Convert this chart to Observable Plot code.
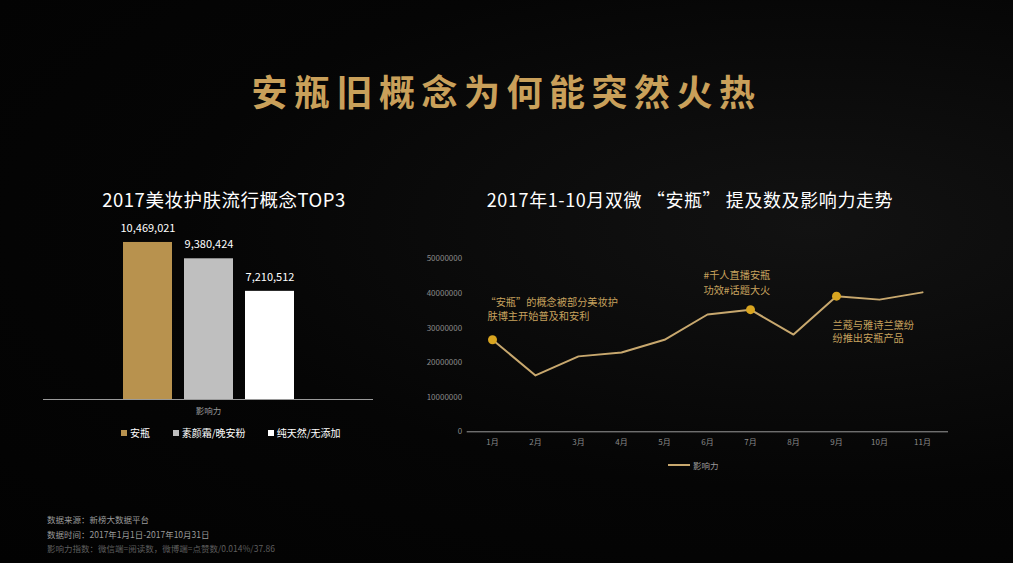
<!DOCTYPE html>
<html><head><meta charset="utf-8">
<script src="https://cdn.jsdelivr.net/npm/d3@7"></script>
<script src="https://cdn.jsdelivr.net/npm/@observablehq/plot@0.6"></script>
<style>
html,body{margin:0;padding:0;background:#040404;}
#page{position:relative;width:1013px;height:563px;overflow:hidden;background:radial-gradient(ellipse at 80% 40%,#121212 0%,#050505 55%,#020202 100%);font-family:"Noto Sans CJK SC","Noto Sans",sans-serif;}
.abs{position:absolute;white-space:nowrap;}
#title{left:0;width:1013px;top:64px;text-align:center;font-size:36px;font-weight:bold;letter-spacing:6.5px;color:#c9a05a;}
.sub{font-size:18px;color:#fff;top:186px;text-align:center;}
.chart{position:absolute;left:0;top:0;}
.leg{font-size:10px;color:#fff;top:425px;display:flex;align-items:center;}
.sq{display:inline-block;width:6px;height:6px;margin-right:3px;}
.foot{left:47px;font-size:8.5px;color:#9a9a9a;}
</style></head>
<body><div id="page">
<div id="title" class="abs">安瓶旧概念为何能突然火热</div>
<div class="abs sub" style="left:74px;width:300px;font-size:18.5px;letter-spacing:0.5px;">2017美妆护肤流行概念TOP3</div>
<div class="abs sub" style="left:440px;width:500px;letter-spacing:0.6px;">2017年1-10月双微 “安瓶” 提及数及影响力走势</div>
<div id="barchart" class="chart"></div>
<div id="linechart" class="chart"></div>
<div id="barlegend"></div>
<div class="abs" style="left:668px;top:459px;display:flex;align-items:center;font-size:8.5px;color:#9a9a9a;"><span style="display:inline-block;width:22px;height:2px;background:#c8a86e;margin-right:3px;"></span>影响力</div>
<div class="abs foot" style="top:513px;">数据来源：新榜大数据平台</div>
<div class="abs foot" style="top:528px;">数据时间：2017年1月1日-2017年10月31日</div>
<div class="abs foot" style="top:542px;color:#5e5e5e;">影响力指数：微信端=阅读数，微博端=点赞数/0.014%/37.86</div>
</div>
<script>
// ---- Data ----
const barCategory = "影响力";
const barSeries = ["安瓶", "素颜霜/晚安粉", "纯天然/无添加"];
const barValues = [10469021, 9380424, 7210512];
const barColors = ["#b8924e", "#bfbfbf", "#ffffff"];

const months = ["1月","2月","3月","4月","5月","6月","7月","8月","9月","10月","11月"];
const influence = [26600000,16300000,21800000,22900000,26600000,33900000,35300000,28100000,39200000,38200000,40300000];
const yTicks = [0,10000000,20000000,30000000,40000000,50000000];
const highlightMonths = ["1月","7月","9月"];
const annotations = [
  {month:"1月", lines:["“安瓶”的概念被部分美妆护","肤博主开始普及和安利"]},
  {month:"7月", lines:["#千人直播安瓶","功效#话题大火"]},
  {month:"9月", lines:["兰蔻与雅诗兰黛纷","纷推出安瓶产品"]}
];

const W = 1013, H = 563;
const font = '"Noto Sans CJK SC","Noto Sans",sans-serif';

// ---- Bar chart ----
const barData = barSeries.map((s,i)=>({series:s, value:barValues[i], color:barColors[i]}));
const bar = Plot.plot({
  width: W, height: H,
  marginLeft: 43, marginRight: W-373, marginTop: 219, marginBottom: H-399,
  style: {background:"transparent", fontFamily: font, overflow:"visible"},
  x: {domain: barSeries, range:[110.4, 307.2], padding:0.2, axis:null},
  y: {domain:[0,12000000], axis:null},
  marks: [
    Plot.barY(barData, {x:"series", y:"value", fill:"color"}),
    Plot.text(barData, {x:"series", y:"value", text:d=>d3.format(",")(d.value), dy:-14, fill:"#fff", fontSize:11}),
    Plot.ruleY([0], {stroke:"#9a9a9a", strokeWidth:1}),
    Plot.text([barCategory], {frameAnchor:"bottom", dy:14, text:d=>d, fill:"#9a9a9a", fontSize:8.5})
  ]
});
document.getElementById("barchart").appendChild(bar);

// bar legend
const legPos = [121, 172.7, 267.7];
const lg = document.getElementById("barlegend");
barSeries.forEach((s,i)=>{
  const d = document.createElement("div");
  d.className = "abs leg";
  d.style.left = legPos[i] + "px";
  d.innerHTML = `<span class="sq" style="background:${barColors[i]}"></span>${s}`;
  lg.appendChild(d);
});

// ---- Line chart ----
const lineData = months.map((m,i)=>({month:m, value:influence[i]}));
const valueOf = Object.fromEntries(lineData.map(d=>[d.month,d.value]));
// label offsets (style only) per annotation line
const annStyle = {
  "1月": [{dx:-7, dy:-37}, {dx:-5, dy:-23}],
  "7月": [{dx:-47, dy:-34}, {dx:-47, dy:-19}],
  "9月": [{dx:-4, dy:30}, {dx:-4, dy:43}]
};
const gold = "#c8a86e";
const annFill = "#c7a25e";
const annMarks = [];
annotations.forEach(a=>{
  a.lines.forEach((t,j)=>{
    const s = annStyle[a.month][j];
    annMarks.push(Plot.text([{month:a.month, value:valueOf[a.month], text:t}],
      {x:"month", y:"value", text:"text", textAnchor:"start", dx:s.dx, dy:s.dy, fill:annFill, fontSize:10.2}));
  });
});
const line = Plot.plot({
  width: W, height: H,
  marginLeft: 466.7, marginRight: W-948, marginTop: 258.3, marginBottom: H-431.3,
  style: {background:"transparent", fontFamily: font, overflow:"visible"},
  x: {domain: months, type:"point", padding:0.5, label:null},
  y: {domain:[0,50000000], label:null},
  marks: [
    Plot.axisY({ticks: yTicks, tickSize:0, tickPadding:5, tickFormat:d=>String(d), fill:"#8a8a8a", fontSize:8}),
    Plot.axisX({tickSize:0, tickPadding:8, fill:"#8a8a8a", fontSize:8, label:null}),
    Plot.ruleY([0], {stroke:"#9a9a9a", strokeWidth:1}),
    Plot.lineY(lineData, {x:"month", y:"value", stroke:gold, strokeWidth:2}),
    Plot.dot(lineData.filter(d=>highlightMonths.includes(d.month)), {x:"month", y:"value", r:4.5, fill:"#d9a520"}),
    ...annMarks
  ]
});
document.getElementById("linechart").appendChild(line);
</script>
</body></html>
